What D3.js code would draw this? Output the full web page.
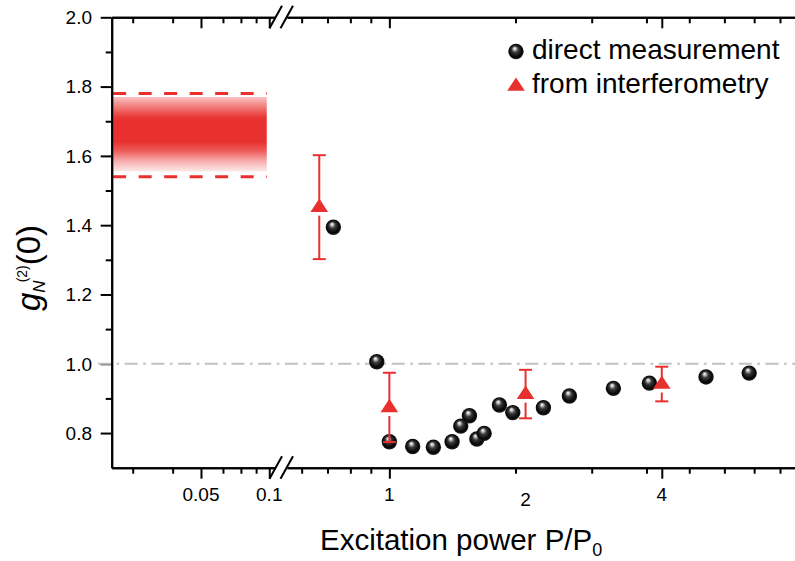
<!DOCTYPE html>
<html>
<head>
<meta charset="utf-8">
<script src="https://cdn.jsdelivr.net/npm/d3@7"></script>
<style>
  html, body { margin: 0; padding: 0; background: #fff; }
  svg { display: block; font-family: "Liberation Sans", Arial, Helvetica, sans-serif; }
</style>
</head>
<body>
<svg id="chart" width="795" height="561"></svg>
<script>
// ---------------- data ----------------
const directX = [0.752, 0.938, 1.0, 1.126, 1.251, 1.376, 1.438, 1.503, 1.561, 1.620, 1.751, 1.874, 2.190, 2.500, 3.127, 3.756, 5.01, 6.24];
const directY = [1.394, 1.006, 0.775, 0.761, 0.759, 0.775, 0.820, 0.850, 0.783, 0.799, 0.881, 0.859, 0.873, 0.907, 0.929, 0.944, 0.962, 0.973];
const interfX = [0.70, 1.0, 2.0, 4.0];
const interfY = [1.452, 0.874, 0.9125, 0.9415];
const interfErr = [0.15, 0.10, 0.07, 0.05];
const bandX = [0.0205, 0.0975];
const bandY = [1.555, 1.77];
const bandDashY = [1.54, 1.78];
const refLineY = 1.0;

const yMajor = [0.8, 1.0, 1.2, 1.4, 1.6, 1.8, 2.0];
const yMinor = [0.9, 1.1, 1.3, 1.5, 1.7, 1.9];
const xLeftMajor = [0.05, 0.1];
const xLeftMinor = [0.025, 0.0375, 0.0625, 0.075, 0.0875];
const xLeftLabels = [0.05, 0.1];
const xRightMajor = [1, 4];
const xRightMinor = [0.64, 0.73, 0.82, 0.91, 1.9, 2.8, 3.7, 4.6, 5.5, 6.4, 7.3];
const xRightLabels = [1, 2, 4];
const legendLabels = ["direct measurement", "from interferometry"];

// ---------------- layout ----------------
const RED = "#e8312f";
const svg = d3.select("#chart");
const pTop = 17.3, pBottom = 467.7, pLeft = 111.7, pRight = 798;

const y = d3.scaleLinear().domain([0.7, 2.0]).range([pBottom, pTop]);
const xL = d3.scaleLog().domain([0.0202, 0.106]).range([pLeft, 275]);
const xR = d3.scaleLog().domain([0.594, 8.0]).range([287, pRight]);

const defs = svg.append("defs");
const sg = defs.append("radialGradient").attr("id", "sphere")
  .attr("cx", "50%").attr("cy", "50%").attr("r", "55%").attr("fx", "40%").attr("fy", "28%");
sg.append("stop").attr("offset", "0%").attr("stop-color", "#ffffff");
sg.append("stop").attr("offset", "14%").attr("stop-color", "#c8c8c8");
sg.append("stop").attr("offset", "38%").attr("stop-color", "#3a3a3a");
sg.append("stop").attr("offset", "75%").attr("stop-color", "#050505");
sg.append("stop").attr("offset", "100%").attr("stop-color", "#2a2a2a");

const bg = defs.append("linearGradient").attr("id", "band").attr("x1", 0).attr("y1", 0).attr("x2", 0).attr("y2", 1);
[[0, 0.3], [0.12, 0.6], [0.27, 0.97], [0.32, 1], [0.6, 1], [0.72, 0.8], [0.86, 0.4], [1, 0.1]].forEach(([o, a]) => {
  bg.append("stop").attr("offset", o).attr("stop-color", RED).attr("stop-opacity", a);
});

// ---------------- band ----------------
svg.append("rect")
  .attr("x", xL(bandX[0])).attr("width", xL(bandX[1]) - xL(bandX[0]))
  .attr("y", y(bandY[1])).attr("height", y(bandY[0]) - y(bandY[1]))
  .attr("fill", "url(#band)");
svg.selectAll(".bandDash").data(bandDashY).join("line")
  .attr("x1", xL(bandX[0])).attr("x2", xL(bandX[1]))
  .attr("y1", d => y(d)).attr("y2", d => y(d))
  .attr("stroke", RED).attr("stroke-width", 3).attr("stroke-dasharray", "13,12.5");

// ---------------- axes ----------------
function styleAxis(g) {
  g.selectAll("path.domain").attr("stroke", "#000").attr("stroke-width", 2);
  g.selectAll(".tick line").attr("stroke", "#000").attr("stroke-width", 2);
  g.selectAll(".tick text").remove();
}
function hAxis(scale, vals, size, yPos, isTop) {
  const ax = (isTop ? d3.axisTop(scale) : d3.axisBottom(scale))
    .tickValues(vals).tickSizeInner(isTop ? -size : size).tickSizeOuter(0).tickFormat("");
  svg.append("g").attr("transform", `translate(0,${yPos})`).call(ax).call(styleAxis);
}
[[xL, xLeftMajor, xLeftMinor], [xR, xRightMajor, xRightMinor]].forEach(([s, maj, min]) => {
  hAxis(s, min, 6, pBottom, false);
  hAxis(s, maj, 11, pBottom, false);
  hAxis(s, min, 6, pTop, true);
  hAxis(s, maj, 11, pTop, true);
});
function vAxis(vals, size, xPos, isLeft) {
  const ax = d3.axisLeft(y).tickValues(vals).tickSizeInner(isLeft ? size : -size).tickSizeOuter(0).tickFormat("");
  svg.append("g").attr("transform", `translate(${xPos},0)`).call(ax).call(styleAxis);
}
vAxis(yMinor, 6, pLeft, true);
vAxis(yMajor, 11, pLeft, true);
vAxis(yMinor, 6, pRight, false);
vAxis(yMajor, 11, pRight, false);

// break marks
[pBottom, pTop].forEach(yy => {
  [269.5, 280.5].forEach(x0 => {
    svg.append("line").attr("x1", x0).attr("y1", yy + 11).attr("x2", x0 + 12.5).attr("y2", yy - 11.5)
      .attr("stroke", "#000").attr("stroke-width", 2);
  });
});

// y tick labels
svg.selectAll(".ylab").data(yMajor).join("text")
  .attr("x", 92).attr("y", d => y(d)).attr("dy", "0.36em")
  .attr("text-anchor", "end").attr("font-size", 19).text(d => d3.format(".1f")(d));

// x tick labels
svg.selectAll(".xlabL").data(xLeftLabels).join("text")
  .attr("x", d => xL(d)).attr("y", 501).attr("text-anchor", "middle").attr("font-size", 19)
  .text(d => String(d));
svg.selectAll(".xlabR").data(xRightLabels).join("text")
  .attr("x", d => xR(d)).attr("y", d => d === 2 ? 506 : 501).attr("text-anchor", "middle").attr("font-size", 19)
  .text(d => String(d));

// reference dash-dot line
svg.append("line").attr("x1", 98).attr("x2", pRight).attr("y1", y(refLineY)).attr("y2", y(refLineY))
  .attr("stroke", "#c0c0c6").attr("stroke-width", 2).attr("stroke-dasharray", "13,5.5,2.7,5.5");

// axis titles
const xt = svg.append("text").attr("x", 320).attr("y", 550).attr("font-size", 29.5);
xt.append("tspan").text("Excitation power P/P");
xt.append("tspan").attr("font-size", 18).attr("dy", 6).text("0");

const yt = svg.append("text").attr("transform", "translate(40,311) rotate(-90)").attr("font-size", 33);
yt.append("tspan").attr("font-style", "italic").text("g");
yt.append("tspan").attr("font-style", "italic").attr("font-size", 17).attr("dy", 5).text("N");
yt.append("tspan").attr("font-size", 14).attr("dy", -18).attr("dx", -2).text("(2)");
yt.append("tspan").attr("dy", 13).text("(0)");

// ---------------- marks ----------------
const sphereR = 7.7;
const pts = directX.map((d, i) => ({x: d, y: directY[i]}));
svg.selectAll(".sph").data(pts).join("circle")
  .attr("cx", d => xR(d.x)).attr("cy", d => y(d.y)).attr("r", sphereR)
  .attr("fill", "url(#sphere)");

const triPath = "M0,-8.6L8.8,4.8L-8.8,4.8Z";
const tri = interfX.map((d, i) => ({x: d, y: interfY[i], e: interfErr[i]}));
const eg = svg.selectAll(".err").data(tri).join("g");
eg.append("line").attr("x1", d => xR(d.x)).attr("x2", d => xR(d.x))
  .attr("y1", d => y(d.y + d.e)).attr("y2", d => y(d.y) - 6)
  .attr("stroke", RED).attr("stroke-width", 2);
eg.append("line").attr("x1", d => xR(d.x)).attr("x2", d => xR(d.x))
  .attr("y1", d => y(d.y) + 8.5).attr("y2", d => y(d.y - d.e))
  .attr("stroke", RED).attr("stroke-width", 2);
[1, -1].forEach(s => {
  eg.append("line").attr("x1", d => xR(d.x) - 6.5).attr("x2", d => xR(d.x) + 6.5)
    .attr("y1", d => y(d.y + s * d.e)).attr("y2", d => y(d.y + s * d.e))
    .attr("stroke", RED).attr("stroke-width", 2);
});
eg.append("path").attr("d", triPath)
  .attr("transform", d => `translate(${xR(d.x)},${y(d.y)})`).attr("fill", RED);

// ---------------- legend ----------------
svg.append("circle").attr("cx", 516).attr("cy", 51.5).attr("r", sphereR).attr("fill", "url(#sphere)");
svg.append("path").attr("d", triPath).attr("transform", "translate(516,86)").attr("fill", RED);
svg.selectAll(".leg").data(legendLabels).join("text")
  .attr("x", 532).attr("y", (d, i) => 59 + i * 34).attr("font-size", 28).text(d => d);
</script>
</body>
</html>
